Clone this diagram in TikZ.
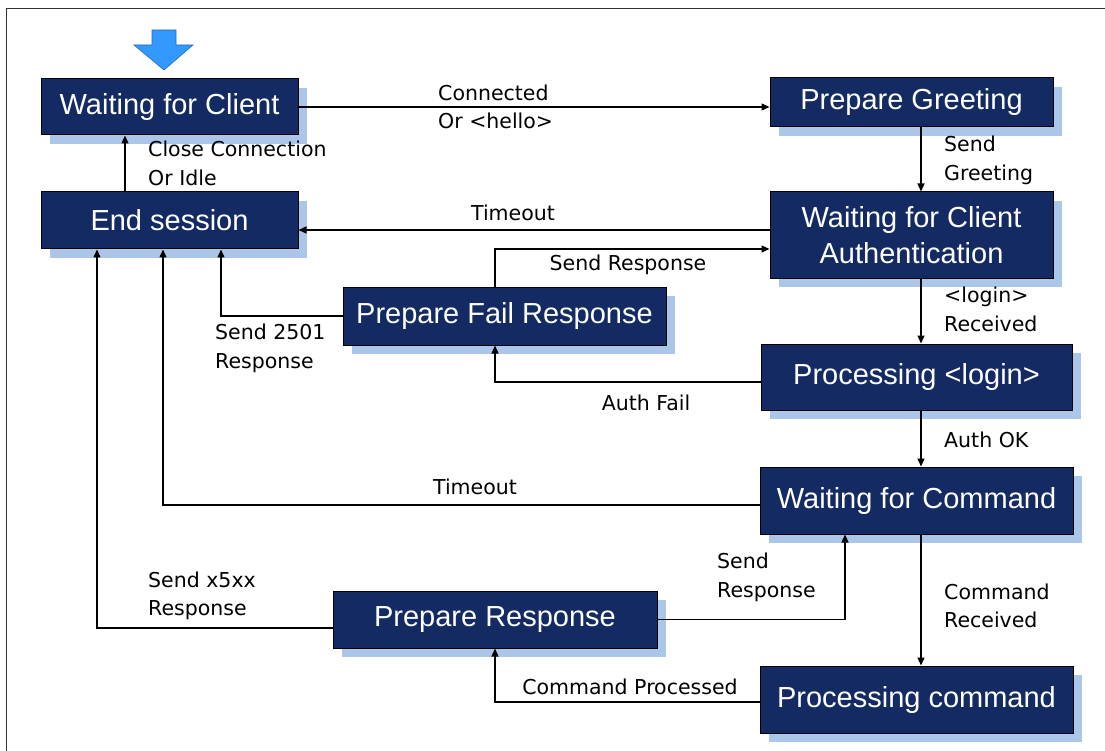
\documentclass[tikz,border=0pt]{standalone}
\usepackage{fontspec}
\setmainfont{DejaVu Sans}
\newfontfamily\boxfont{Liberation Sans}
\usetikzlibrary{arrows.meta,shadows}
\definecolor{boxnavy}{RGB}{20,42,98}
\definecolor{shadowblue}{RGB}{170,198,232}
\definecolor{startblue}{RGB}{51,153,255}

\begin{document}
\begin{tikzpicture}[x=1pt, y=-1pt,
    state/.style={draw=black, line width=1pt, fill=boxnavy, text=white, inner sep=0pt, align=center,
        font=\boxfont\fontsize{29}{36}\selectfont,
        drop shadow={shadow xshift=9pt, shadow yshift=-9pt, fill=shadowblue, opacity=1}},
    lbl/.style={inner sep=0pt, align=left, anchor=west, font=\fontsize{20.5}{28.5}\selectfont},
    flow/.style={-{Triangle[length=8pt,width=7pt]}, line width=1.3pt}]

    % Page and frame
    \useasboundingbox (0,0) rectangle (1105,751);
    \draw[black!80, line width=1pt] (1105,9) -- (6,9) -- (6,751);

    % Columns and levels of the connectors
    \coordinate (xsend) at (97,0);
    \coordinate (xclose) at (125,0);
    \coordinate (xtime) at (163,0);
    \coordinate (xfail) at (221,0);
    \coordinate (xmid) at (495,0);
    \coordinate (xback) at (845,0);
    \coordinate (rx) at (921,0);
    \coordinate (ytop) at (0,230);
    \coordinate (yresp) at (0,249);
    \coordinate (yfail) at (0,382);
    \coordinate (ylow) at (0,505);
    \coordinate (yerr) at (0,628);
    \coordinate (ydone) at (0,702);

    % Start marker
    \draw[fill=startblue, draw=startblue!70!black, line width=0.6pt]
        (152,30) -- (176,30) -- (176,45) -- (193,45) -- (164,70) -- (134,45) -- (152,45) -- cycle;

    % States
    \node[state, minimum width=257pt, minimum height=56pt] (client) at (169.5,107) {Waiting for Client};
    \node[state, minimum width=257pt, minimum height=57pt] (endses) at (169.5,220.5) {End session};
    \node[state, minimum width=283pt, minimum height=49pt] (greet) at (911.5,102.5) {Prepare Greeting};
    \node[state, minimum width=283pt, minimum height=86pt] (auth) at (911.5,235) {Waiting for Client\\Authentication};
    \node[state, minimum width=323pt, minimum height=58pt] (failr) at (504.5,316) {Prepare Fail Response};
    \node[state, minimum width=311pt, minimum height=66pt] (login) at (916.5,377) {Processing <login>};
    \node[state, minimum width=313pt, minimum height=67pt] (cmdwait) at (916.5,500.5) {Waiting for Command};
    \node[state, minimum width=324pt, minimum height=57pt] (resp) at (495,619.5) {Prepare Response};
    \node[state, minimum width=313pt, minimum height=67pt] (cmdproc) at (916.5,699.5) {Processing command};

    % Transitions
    \draw[flow] (client.east) -- (client.east -| greet.west);
    \node[lbl] (lconn) at (438,107) {Connected\\Or <hello>};

    \draw[flow] (rx |- greet.south) -- (rx |- auth.north);
    \node[lbl] (lgreet) at (944,160.5) {Send\\Greeting};

    \draw[flow] (xclose |- endses.north) -- (xclose |- client.south);
    \node[lbl] (lclose) at (148,163.5) {Close Connection\\Or Idle};

    \draw[flow] (auth.west |- ytop) -- (endses.east |- ytop);
    \node[lbl, anchor=center] (ltime) at (513,213) {Timeout};

    \draw[flow] (xmid |- failr.north) |- (auth.west |- yresp);
    \node[lbl, anchor=center] (lfresp) at (628,265) {Send Response};

    \draw[flow] (failr.west) -| (xfail |- endses.south);
    \node[lbl] (l2501) at (215,348.5) {Send 2501\\Response};

    \draw[flow] (rx |- auth.south) -- (rx |- login.north);
    \node[lbl] (llogin) at (944,309.5) {<login>\\Received};

    \draw[flow] (login.west |- yfail) -| (xmid |- failr.south);
    \node[lbl, anchor=center] (lfail) at (646,403) {Auth Fail};

    \draw[flow] (rx |- login.south) -- (rx |- cmdwait.north);
    \node[lbl] (lok) at (944,440) {Auth OK};

    \draw[flow] (cmdwait.west |- ylow) -| (xtime |- endses.south);
    \node[lbl, anchor=center] (ltime2) at (475,487) {Timeout};

    \draw[flow] (rx |- cmdwait.south) -- (rx |- cmdproc.north);
    \node[lbl] (lrecv) at (944,606) {Command\\Received};

    \draw[flow] (cmdproc.west |- ydone) -| (xmid |- resp.south);
    \node[lbl, anchor=center] (ldone) at (630,687) {Command Processed};

    \draw[flow] (resp.east) -| (xback |- cmdwait.south);
    \node[lbl] (lsend) at (717,577.5) {Send\\Response};

    \draw[flow] (resp.west |- yerr) -| (xsend |- endses.south);
    \node[lbl] (lx5xx) at (148,596) {Send x5xx\\Response};

\end{tikzpicture}
\end{document}
